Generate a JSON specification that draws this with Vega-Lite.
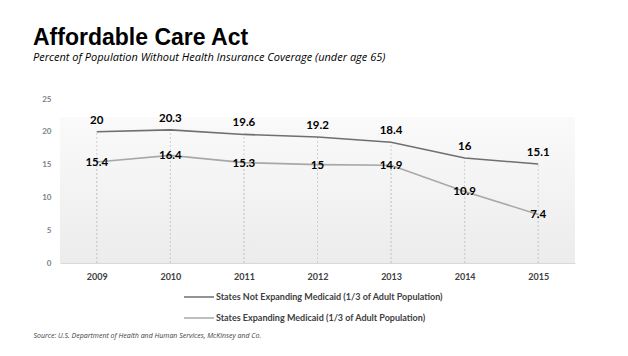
{
  "$schema": "https://vega.github.io/schema/vega-lite/v6.json",
  "autosize": "none",
  "width": 515,
  "height": 164,
  "padding": {"left": 60, "top": 99, "right": 53, "bottom": 93},
  "background": "#ffffff",
  "title": {
    "text": "Affordable Care Act",
    "subtitle": "Percent of Population Without Health Insurance Coverage (under age 65)",
    "anchor": "start",
    "frame": "group",
    "dx": -27,
    "offset": 32,
    "font": "Liberation Sans",
    "fontSize": 23,
    "fontWeight": "bold",
    "color": "#000000",
    "subtitleFont": "Open Sans",
    "subtitleFontSize": 11,
    "subtitleFontStyle": "italic",
    "subtitleColor": "#000000",
    "subtitlePadding": 2
  },
  "data": {
    "values": [
      {"year": "2009", "series": "States Not Expanding Medicaid (1/3 of Adult Population)", "value": 20},
      {"year": "2010", "series": "States Not Expanding Medicaid (1/3 of Adult Population)", "value": 20.3},
      {"year": "2011", "series": "States Not Expanding Medicaid (1/3 of Adult Population)", "value": 19.6},
      {"year": "2012", "series": "States Not Expanding Medicaid (1/3 of Adult Population)", "value": 19.2},
      {"year": "2013", "series": "States Not Expanding Medicaid (1/3 of Adult Population)", "value": 18.4},
      {"year": "2014", "series": "States Not Expanding Medicaid (1/3 of Adult Population)", "value": 16},
      {"year": "2015", "series": "States Not Expanding Medicaid (1/3 of Adult Population)", "value": 15.1},
      {"year": "2009", "series": "States Expanding Medicaid (1/3 of Adult Population)", "value": 15.4},
      {"year": "2010", "series": "States Expanding Medicaid (1/3 of Adult Population)", "value": 16.4},
      {"year": "2011", "series": "States Expanding Medicaid (1/3 of Adult Population)", "value": 15.3},
      {"year": "2012", "series": "States Expanding Medicaid (1/3 of Adult Population)", "value": 15},
      {"year": "2013", "series": "States Expanding Medicaid (1/3 of Adult Population)", "value": 14.9},
      {"year": "2014", "series": "States Expanding Medicaid (1/3 of Adult Population)", "value": 10.9},
      {"year": "2015", "series": "States Expanding Medicaid (1/3 of Adult Population)", "value": 7.4}
    ]
  },
  "encoding": {
    "x": {
      "field": "year",
      "type": "ordinal",
      "scale": {"type": "point", "padding": 0.5},
      "axis": {
        "labelAngle": 0,
        "labelFont": "Lato",
        "labelFontWeight": "bold",
        "labelFontSize": 9,
        "labelColor": "#404040",
        "labelPadding": 9,
        "ticks": false,
        "grid": false,
        "domainColor": "#d9d9d9",
        "domainWidth": 1,
        "title": "Source: U.S. Department of Health and Human Services, McKinsey and Co.",
        "titleFont": "Open Sans",
        "titleFontSize": 7,
        "titleFontStyle": "italic",
        "titleFontWeight": "normal",
        "titleColor": "#404040",
        "titleAlign": "left",
        "titleAnchor": "start",
        "titleBaseline": "alphabetic",
        "titleX": -27,
        "titleY": 74
      }
    },
    "y": {
      "field": "value",
      "type": "quantitative",
      "scale": {"domain": [0, 25], "nice": false},
      "axis": {
        "values": [0, 5, 10, 15, 20, 25],
        "tickCount": 6,
        "labelOverlap": false,
        "title": null
      }
    }
  },
  "layer": [
    {
      "mark": {"type": "rule", "color": "#cfcfcf", "strokeDash": [2, 2], "strokeWidth": 1},
      "encoding": {
        "y": {"datum": 0, "type": "quantitative"},
        "y2": {"field": "value"}
      }
    },
    {
      "mark": {"type": "line", "strokeWidth": 1.6},
      "encoding": {
        "color": {
          "field": "series",
          "type": "nominal",
          "scale": {
            "domain": ["States Not Expanding Medicaid (1/3 of Adult Population)", "States Expanding Medicaid (1/3 of Adult Population)"],
            "range": ["#6f6f6f", "#a8a8a8"]
          },
          "legend": {
            "title": null,
            "orient": "none",
            "direction": "vertical",
            "legendX": 123,
            "legendY": 182,
            "symbolType": "stroke",
            "symbolSize": 900,
            "symbolStrokeWidth": 1.5,
            "labelFont": "Lato",
            "labelFontSize": 9,
            "labelFontWeight": "bold",
            "labelColor": "#404040",
            "labelLimit": 400,
            "labelOffset": 1,
            "rowPadding": -12,
            "padding": 0
          }
        }
      }
    },
    {
      "transform": [{"filter": "datum.series == 'States Not Expanding Medicaid (1/3 of Adult Population)'"}],
      "mark": {"type": "text", "font": "Lato", "fontSize": 11.5, "fontWeight": "bold", "color": "#000000", "dy": -11},
      "encoding": {
        "text": {"field": "value", "type": "quantitative"}
      }
    },
    {
      "transform": [{"filter": "datum.series == 'States Expanding Medicaid (1/3 of Adult Population)'"}],
      "mark": {"type": "text", "font": "Lato", "fontSize": 11.5, "fontWeight": "bold", "color": "#000000", "dy": 1},
      "encoding": {
        "text": {"field": "value", "type": "quantitative"}
      }
    }
  ],
  "config": {
    "axisY": {
      "labelOverlap": false,
      "labelFont": "Lato",
      "labelFontSize": 8,
      "labelFontWeight": "bold",
      "labelColor": "#7f7f7f",
      "labelPadding": 9,
      "ticks": false,
      "domain": false,
      "grid": false
    },
    "view": {
      "stroke": null,
      "fill": {
        "gradient": "linear",
        "x1": 0, "y1": 0, "x2": 0, "y2": 1,
        "stops": [
          {"offset": 0, "color": "#ffffff"},
          {"offset": 0.11, "color": "#ffffff"},
          {"offset": 0.111, "color": "#fafafa"},
          {"offset": 1, "color": "#ececec"}
        ]
      }
    }
  }
}
